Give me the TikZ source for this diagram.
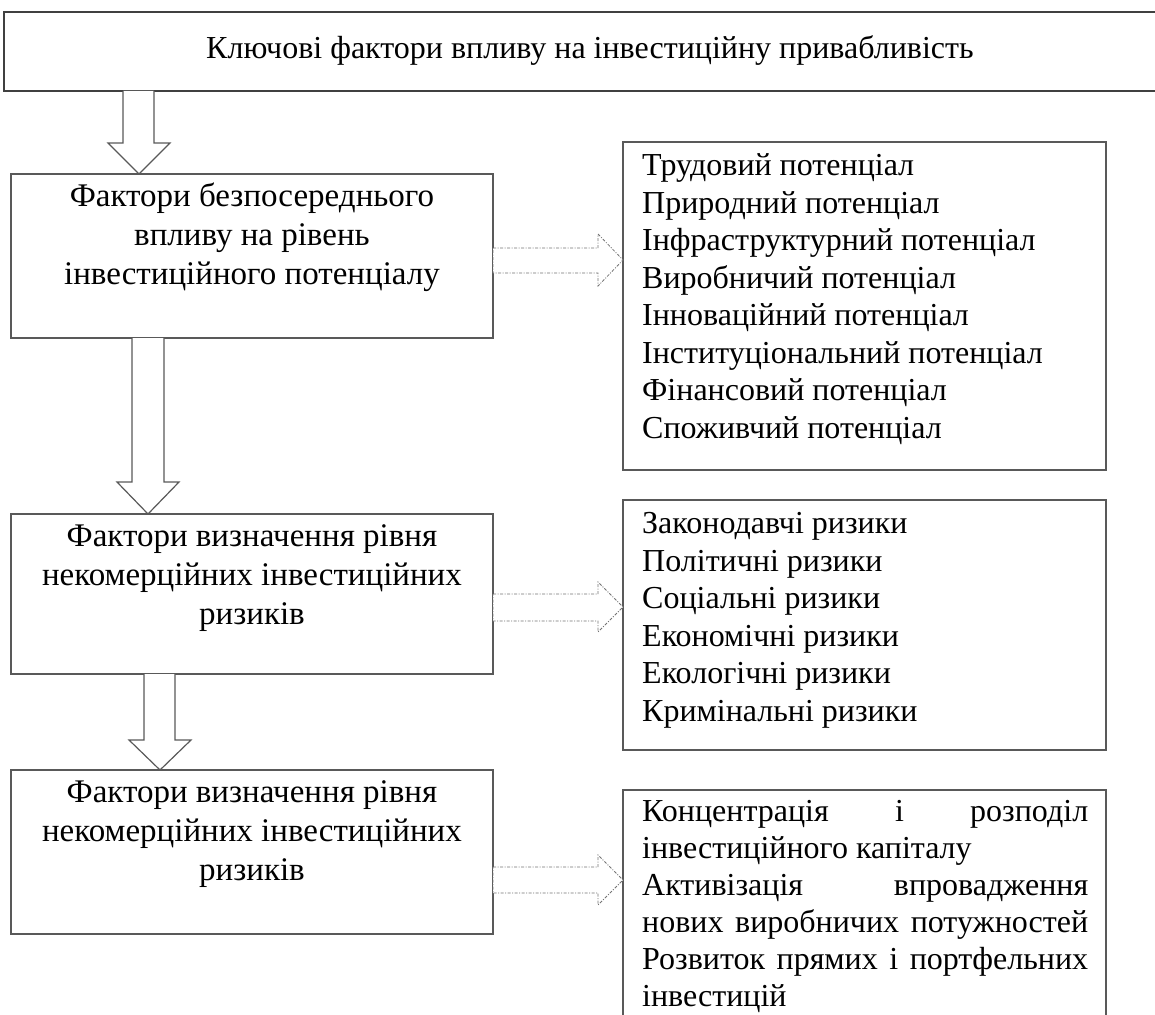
\documentclass[tikz,border=0pt]{standalone}
\usepackage{fontspec}
\setmainfont{Liberation Serif}
\begin{document}
\begin{tikzpicture}[x=1pt,y=-1pt,
  box/.style={draw=black!65,line width=1.4pt},
  blockarrow/.style={draw=black!65,line width=1.2pt,fill=white,line join=miter},
  dotarrow/.style={draw=black!55,line width=0.8pt,fill=white,dash pattern=on 3pt off 1.5pt on 1pt off 1.5pt},
  txt/.style={inner sep=0pt,anchor=north west,align=left,font=\fontsize{32}{37.5}\selectfont},
  ctxt/.style={inner sep=0pt,anchor=north,align=center,font=\fontsize{33}{39}\selectfont}]
\useasboundingbox (0,0) rectangle (1155,1014);
\clip (0,0) rectangle (1155,1014);
% top box
\draw[box,draw=black!75] (4,12) rectangle (1170,91);
\node[inner sep=0pt,font=\fontsize{32}{37}\selectfont] (title) at (590,51) {Ключові фактори впливу на інвестиційну привабливість};
% left boxes
\draw[box] (11,174) rectangle (493,338);
\draw[box] (11,514) rectangle (493,674);
\draw[box] (11,770) rectangle (493,934);
\node[ctxt] (l1) at (252,178.5) {\strut Фактори безпосереднього\\впливу на рівень\\інвестиційного потенціалу};
\node[ctxt] (l2) at (252,518.5) {\strut Фактори визначення рівня\\некомерційних інвестиційних\\ризиків};
\node[ctxt] (l3) at (252,774.5) {\strut Фактори визначення рівня\\некомерційних інвестиційних\\ризиків};
% right boxes
\draw[box] (623,142) rectangle (1106,470);
\draw[box] (623,500) rectangle (1106,750);
\draw[box] (623,790) rectangle (1106,1040);
\node[txt] (r1) at (642,149.5) {\strut Трудовий потенціал\\Природний потенціал\\Інфраструктурний потенціал\\Виробничий потенціал\\Інноваційний потенціал\\Інституціональний потенціал\\Фінансовий потенціал\\Споживчий потенціал};
\node[txt] (r2) at (642,507.5) {\strut Законодавчі ризики\\Політичні ризики\\Соціальні ризики\\Економічні ризики\\Екологічні ризики\\Кримінальні ризики};
\node[txt,font=\fontsize{32}{37}\selectfont] (r3) at (642,795) {\strut\hbox to 446pt{Концентрація\hfill і\hfill розподіл}\\інвестиційного капіталу\\\hbox to 446pt{Активізація\hfill впровадження}\\\hbox to 446pt{нових\hfill виробничих\hfill потужностей}\\\hbox to 446pt{Розвиток\hfill прямих\hfill і\hfill портфельних}\\інвестицій};
% block arrows
\draw[blockarrow] (123,91) -- (123,143) -- (108,143) -- (139,174) -- (170,143) -- (154,143) -- (154,91);
\draw[blockarrow] (132,338) -- (132,482) -- (117,482) -- (148,514) -- (179,482) -- (164,482) -- (164,338);
\draw[blockarrow] (144,674) -- (144,740) -- (129,740) -- (160,770) -- (191,740) -- (175,740) -- (175,674);
% dotted arrows
\draw[dotarrow] (493,248) -- (598,248) -- (598,234) -- (623,260) -- (598,286) -- (598,273) -- (493,273) -- cycle;
\draw[dotarrow] (493,594) -- (598,594) -- (598,582) -- (623,607) -- (598,632) -- (598,621) -- (493,621) -- cycle;
\draw[dotarrow] (493,867) -- (598,867) -- (598,855) -- (623,880) -- (598,905) -- (598,893) -- (493,893) -- cycle;
\end{tikzpicture}
\end{document}
